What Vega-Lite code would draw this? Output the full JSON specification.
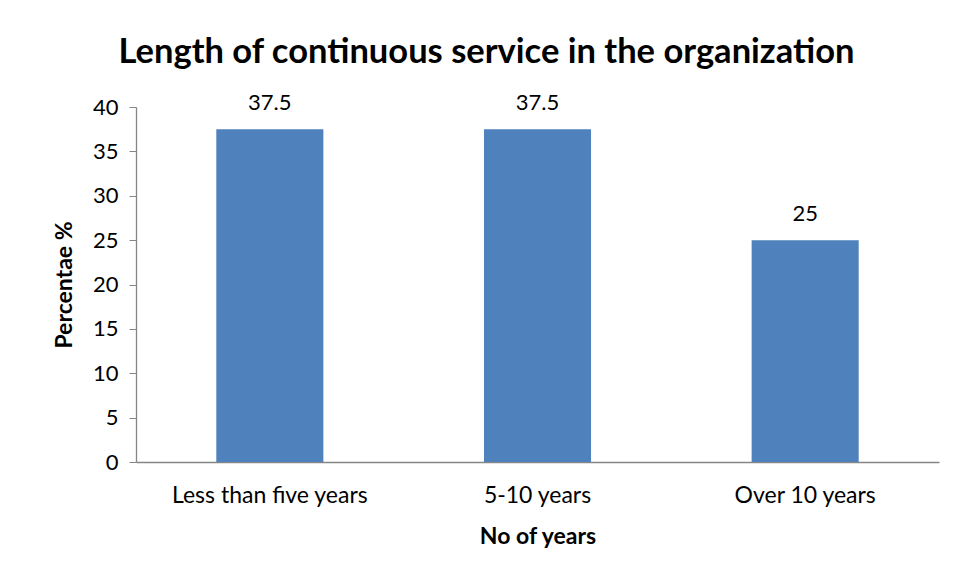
{
  "$schema": "https://vega.github.io/schema/vega-lite/v6.json",
  "width": 803,
  "height": 355,
  "autosize": {"type": "none"},
  "padding": {"left": 136, "top": 107, "right": 19, "bottom": 117},
  "background": "white",
  "data": {"values": [
    {"category": "Less than five years", "percent": 37.5},
    {"category": "5-10 years", "percent": 37.5},
    {"category": "Over 10 years", "percent": 25}
  ]},
  "title": {
    "text": "Length of continuous service in the organization",
    "font": "Lato",
    "fontSize": 34.5,
    "fontWeight": "bold",
    "color": "#000000",
    "anchor": "middle",
    "dx": -51,
    "offset": 22
  },
  "config": {
    "view": {"stroke": null},
    "font": "Lato"
  },
  "encoding": {
    "x": {
      "field": "category", "type": "nominal", "sort": null,
      "scale": {"paddingInner": 0.6, "paddingOuter": 0.3},
      "axis": {
        "title": "No of years", "titleFont": "Lato", "titleFontSize": 23, "titleFontWeight": "bold", "titleColor": "#000",
        "titlePadding": 18,
        "labelAngle": 0, "labelFontSize": 23, "labelColor": "#000", "labelPadding": 22, "labelFont": "Lato", "labelLimit": 400,
        "ticks": false, "domainColor": "#868686", "domainWidth": 1.3, "grid": false
      }
    },
    "y": {
      "field": "percent", "type": "quantitative",
      "scale": {"domain": [0, 40]},
      "axis": {
        "title": "Percentae %", "titleFont": "Lato", "titleFontSize": 23, "titleFontWeight": "bold", "titleColor": "#000",
        "titlePadding": 16,
        "values": [0, 5, 10, 15, 20, 25, 30, 35, 40],
        "labelFontSize": 22, "labelColor": "#000", "labelPadding": 11, "labelFont": "Lato",
        "tickSize": 7, "tickColor": "#868686", "domainColor": "#868686", "domainWidth": 1.3, "grid": false
      }
    }
  },
  "layer": [
    {"mark": {"type": "bar", "color": "#4F81BD"}},
    {
      "mark": {"type": "text", "dy": -26, "fontSize": 22, "color": "#000", "font": "Lato"},
      "encoding": {"text": {"field": "percent", "type": "quantitative"}}
    }
  ]
}
